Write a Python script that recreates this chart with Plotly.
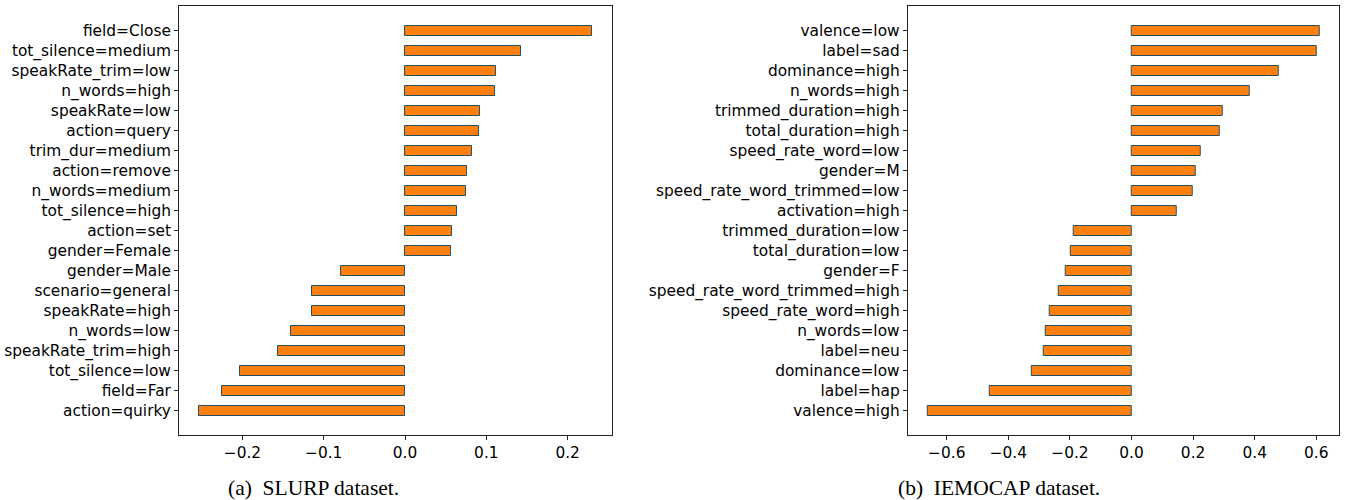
import plotly.graph_objects as go
from plotly.subplots import make_subplots

slurp_labels = ["field=Close", "tot_silence=medium", "speakRate_trim=low", "n_words=high",
                "speakRate=low", "action=query", "trim_dur=medium", "action=remove",
                "n_words=medium", "tot_silence=high", "action=set", "gender=Female",
                "gender=Male", "scenario=general", "speakRate=high", "n_words=low",
                "speakRate_trim=high", "tot_silence=low", "field=Far", "action=quirky"]
slurp_values = [0.230, 0.143, 0.112, 0.111, 0.092, 0.0915, 0.082, 0.076, 0.0745, 0.0645,
                0.0575, 0.056, -0.079, -0.1142, -0.1146, -0.1405, -0.156, -0.2033, -0.2246, -0.2538]

iemocap_labels = ["valence=low", "label=sad", "dominance=high", "n_words=high",
                  "trimmed_duration=high", "total_duration=high", "speed_rate_word=low",
                  "gender=M", "speed_rate_word_trimmed=low", "activation=high",
                  "trimmed_duration=low", "total_duration=low", "gender=F",
                  "speed_rate_word_trimmed=high", "speed_rate_word=high", "n_words=low",
                  "label=neu", "dominance=low", "label=hap", "valence=high"]
iemocap_values = [0.610, 0.600, 0.478, 0.3835, 0.296, 0.286, 0.2254, 0.208, 0.198, 0.146,
                  -0.1885, -0.198, -0.212, -0.236, -0.2665, -0.2784, -0.2839, -0.324, -0.459, -0.663]

captions = ["(a)\u00a0\u00a0SLURP dataset.", "(b)\u00a0\u00a0IEMOCAP dataset."]

fig = make_subplots(rows=1, cols=2)

BAR = "#ff7f0e"
EDGE = "#24505e"
FONT = "DejaVu Sans"

for i, (labs, vals) in enumerate([(slurp_labels, slurp_values), (iemocap_labels, iemocap_values)]):
    fig.add_trace(go.Bar(x=vals, y=labs, orientation="h", width=0.5,
                         marker=dict(color=BAR, line=dict(color=EDGE, width=1)),
                         showlegend=False, hoverinfo="skip"), row=1, col=i + 1)

def xr(vals):
    lo, hi = min(vals), max(vals)
    m = (hi - lo) * 0.05
    return [lo - m, hi + m]

n = len(slurp_labels)
yrange = [n - 1 + 0.25 + 0.975, -0.25 - 0.975]

axis_common = dict(showline=True, linecolor="#222222", linewidth=1, mirror=True,
                   ticks="outside", ticklen=4, tickcolor="#222222", showgrid=False,
                   zeroline=False, tickfont=dict(family=FONT, size=15.4, color="black"))

fig.update_xaxes(**axis_common)
fig.update_yaxes(**axis_common)

fig.update_layout(
    xaxis=dict(domain=[0.1331, 0.4548], range=xr(slurp_values), dtick=0.1, tickformat=".1f"),
    xaxis2=dict(domain=[0.6749, 0.9955], range=xr(iemocap_values), dtick=0.2, tickformat=".1f"),
    yaxis=dict(domain=[0.13, 0.988], range=yrange, categoryorder="array",
               categoryarray=slurp_labels, type="category"),
    yaxis2=dict(domain=[0.13, 0.988], range=yrange, categoryorder="array",
                categoryarray=iemocap_labels, type="category"),
    width=1345, height=500,
    margin=dict(l=0, r=0, t=0, b=0),
    plot_bgcolor="white", paper_bgcolor="white",
    bargap=0,
)

fig.add_annotation(text=captions[0], x=313 / 1345, y=1 - 488 / 500, xref="paper", yref="paper",
                   showarrow=False, xanchor="center", yanchor="middle",
                   font=dict(family="Liberation Serif", size=21.5, color="black"))
fig.add_annotation(text=captions[1], x=999 / 1345, y=1 - 488 / 500, xref="paper", yref="paper",
                   showarrow=False, xanchor="center", yanchor="middle",
                   font=dict(family="Liberation Serif", size=21.5, color="black"))

fig.write_html("out.html", config={"displayModeBar": False},
               post_script="document.body.style.margin='0';document.body.style.overflow='hidden';")
